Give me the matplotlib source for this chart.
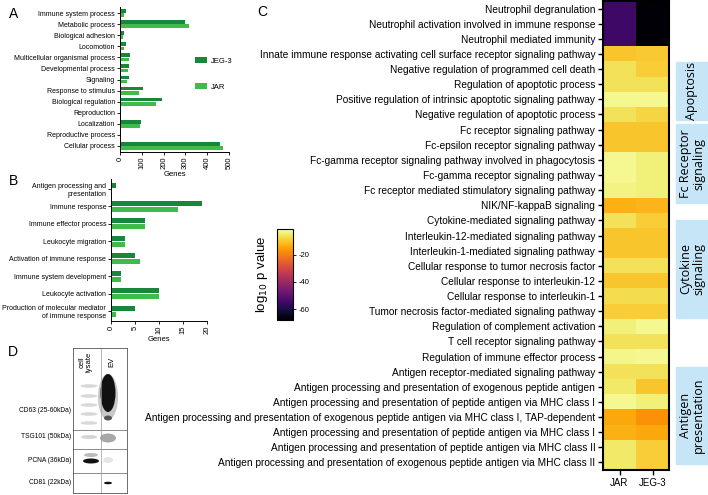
import numpy as np
import matplotlib
matplotlib.use('Agg')
import matplotlib.pyplot as plt
from matplotlib.patches import Rectangle, Ellipse

plt.rcParams['font.family'] = ['Liberation Sans', 'DejaVu Sans']
plt.rcParams['axes.unicode_minus'] = False

W, H = 708, 495
JEG_COLOR = '#17873a'
JAR_COLOR = '#3fbb4b'

# ---- panel A data (GO biological process) ----
a_terms = ['Immune system process', 'Metabolic process', 'Biological adhesion',
           'Locomotion', 'Multicellular organismal process', 'Developmental process',
           'Signaling', 'Response to stimulus', 'Biological regulation',
           'Reproduction', 'Localization', 'Reproductive process', 'Cellular process']
a_jeg3 = [28, 298, 18, 26, 46, 43, 41, 107, 194, 2, 96, 2, 459]
a_jar = [20, 318, 15, 18, 41, 35, 31, 89, 164, 4, 92, 3, 471]

# ---- panel B data (immune subset) ----
b_terms = ['Antigen processing and\npresentation', 'Immune response',
           'Immune effector process', 'Leukocyte migration',
           'Activation of immune response', 'Immune system development',
           'Leukocyte activation', 'Production of molecular mediator\nof immune response']
b_jeg3 = [1, 19, 7, 3, 5, 2, 10, 5]
b_jar = [0, 14, 7, 3, 6, 2, 10, 1]

# ---- panel C data (log10 p value) ----
c_terms = [
    'Neutrophil degranulation',
    'Neutrophil activation involved in immune response',
    'Neutrophil mediated immunity',
    'Innate immune response activating cell surface receptor signaling pathway',
    'Negative regulation of programmed cell death',
    'Regulation of apoptotic process',
    'Positive regulation of intrinsic apoptotic signaling pathway',
    'Negative regulation of apoptotic process',
    'Fc receptor signaling pathway',
    'Fc-epsilon receptor signaling pathway',
    'Fc-gamma receptor signaling pathway involved in phagocytosis',
    'Fc-gamma receptor signaling pathway',
    'Fc receptor mediated stimulatory signaling pathway',
    'NIK/NF-kappaB signaling',
    'Cytokine-mediated signaling pathway',
    'Interleukin-12-mediated signaling pathway',
    'Interleukin-1-mediated signaling pathway',
    'Cellular response to tumor necrosis factor',
    'Cellular response to interleukin-12',
    'Cellular response to interleukin-1',
    'Tumor necrosis factor-mediated signaling pathway',
    'Regulation of complement activation',
    'T cell receptor signaling pathway',
    'Regulation of immune effector process',
    'Antigen receptor-mediated signaling pathway',
    'Antigen processing and presentation of exogenous peptide antigen',
    'Antigen processing and presentation of peptide antigen via MHC class I',
    'Antigen processing and presentation of exogenous peptide antigen via MHC class I, TAP-dependent',
    'Antigen processing and presentation of peptide antigen via MHC class I',
    'Antigen processing and presentation of peptide antigen via MHC class II',
    'Antigen processing and presentation of exogenous peptide antigen via MHC class II',
]
c_cols = ['JAR', 'JEG-3']
c_jar = [-55, -55, -55, -10, -6, -6, -2.5, -6, -10, -10, -2.5, -2.5, -3.5, -13, -6,
         -10, -10, -6, -10, -7, -9, -4, -6, -3, -6, -5, -2.5, -14, -13, -5, -5]
c_jeg3 = [-67, -67, -67, -9.5, -9, -6, -2.5, -8, -10, -10, -4, -4, -4, -12, -9,
          -10, -10, -6, -10, -7, -9, -2.5, -6, -2.5, -6, -10, -4, -17, -14, -9, -9]

groups = [('Apoptosis', 62, 120), ('Fc Receptor\nsignaling', 124, 203),
          ('Cytokine\nsignaling', 220, 318), ('Antigen\npresentation', 367, 464)]

blot_rows = ['CD63 (25-60kDa)', 'TSG101 (50kDa)', 'PCNA (36kDa)', 'CD81 (22kDa)']


def px_axes(fig, x0, y0, x1, y1):
    return fig.add_axes([x0 / W, 1 - y1 / H, (x1 - x0) / W, (y1 - y0) / H])


def bar_panel(ax, terms, jeg, jar, xmax, xticks, h):
    y = np.arange(len(terms))
    ax.barh(y - h / 2 - 0.02, jeg, height=h, color=JEG_COLOR, label='JEG-3')
    ax.barh(y + h / 2 + 0.02, jar, height=h, color=JAR_COLOR, label='JAR')
    ax.set_ylim(len(terms) - 0.45, -0.55)
    ax.set_xlim(0, xmax)
    ax.set_yticks(y)
    ax.set_yticklabels(terms, fontsize=5)
    ax.set_xticks(xticks)
    ax.set_xticklabels([str(t) for t in xticks], rotation=90, fontsize=5.5)
    ax.set_xlabel('Genes', fontsize=5.5, labelpad=1)
    for s in ['top', 'right']:
        ax.spines[s].set_visible(False)
    for s in ['left', 'bottom']:
        ax.spines[s].set_linewidth(0.7)
    ax.tick_params(length=2, width=0.6, pad=1.5)


fig = plt.figure(figsize=(W / 100, H / 100), dpi=100)

# panel A
axA = px_axes(fig, 120, 7, 229, 152)
bar_panel(axA, a_terms, a_jeg3, a_jar, 500, [0, 100, 200, 300, 400, 500], 0.34)
axA.legend(loc='center left', bbox_to_anchor=(188 / W, 1 - 74 / H),
           bbox_transform=fig.transFigure, frameon=False, fontsize=5.5,
           handlelength=1.6, handleheight=0.8, labelspacing=2.4, handletextpad=0.5)

# panel B
axB = px_axes(fig, 111, 179, 207, 321)
bar_panel(axB, b_terms, b_jeg3, b_jar, 20, [0, 5, 10, 15, 20], 0.3)

# panel C heatmap
vals = np.column_stack([c_jar, c_jeg3])
axC = px_axes(fig, 603, 1, 669, 470)
im = axC.imshow(vals, cmap='inferno', vmin=-68, vmax=-1, aspect='auto',
                interpolation='nearest')
axC.set_yticks(np.arange(len(c_terms)))
axC.set_yticklabels(c_terms, fontsize=7.3)
axC.set_xticks(np.arange(len(c_cols)))
axC.set_xticklabels(c_cols, fontsize=7)
axC.tick_params(length=3.5, width=1, pad=2)
for s in axC.spines.values():
    s.set_linewidth(1.5)

# colorbar
cax = px_axes(fig, 277, 229, 293, 320)
cb = fig.colorbar(im, cax=cax, ticks=[-20, -40, -60])
cb.ax.tick_params(labelsize=5.5, length=2, width=0.6, pad=2)
cb.outline.set_linewidth(0.8)
cb.ax.yaxis.set_label_position('left')
cb.set_label(r'log$_{10}$ p value', fontsize=9.5, labelpad=5)

# group boxes
for name, y0, y1 in groups:
    fig.patches.append(Rectangle((676 / W, 1 - y1 / H), 32 / W, (y1 - y0) / H,
                                 transform=fig.transFigure, color='#c6e6f7', zorder=0))
    fig.text(692 / W, 1 - (y0 + y1) / 2 / H, name, rotation=90, ha='center',
             va='center', fontsize=9, family='Open Sans', linespacing=1.0)

# panel D: western blot
axD = px_axes(fig, 73, 348, 127, 493)
axD.set_xlim(73, 127)
axD.set_ylim(493, 348)
axD.set_xticks([])
axD.set_yticks([])
for s in axD.spines.values():
    s.set_linewidth(0.6)
    s.set_color('#555555')
for yl in [430, 449, 473]:
    axD.axhline(yl, color='#777777', lw=0.6)
axD.plot([101, 101], [348, 493], color='#999999', lw=0.5)
# lysate lane smears in CD63
for yb in [386, 396, 405, 414, 423]:
    axD.add_patch(Ellipse((89, yb), 17, 3.5, color='#d8d8d8', lw=0))
# EV lane CD63 blob
axD.add_patch(Ellipse((108, 397), 20, 46, color='#c8c8c8', lw=0))
axD.add_patch(Ellipse((108, 393), 15, 38, color='#111111', lw=0))
axD.add_patch(Ellipse((108, 418), 8, 5, color='#555555', lw=0))
# TSG101
axD.add_patch(Ellipse((89, 437), 16, 4, color='#d4d4d4', lw=0))
axD.add_patch(Ellipse((108, 438), 16, 9, color='#a8a8a8', lw=0))
# PCNA
axD.add_patch(Ellipse((91, 455), 14, 4, color='#bbbbbb', lw=0))
axD.add_patch(Ellipse((91, 461), 16, 5, color='#111111', lw=0))
axD.add_patch(Ellipse((108, 460), 10, 6, color='#e6e6e6', lw=0))
# CD81
axD.add_patch(Ellipse((108, 483), 8, 2.5, color='#111111', lw=0))
axD.text(86, 362, 'cell\nlysate', rotation=90, ha='center', va='center',
         fontsize=5.5, linespacing=1.0)
axD.text(112, 362, 'EV', rotation=90, ha='center', va='center', fontsize=5.5)
for lab, yy in zip(blot_rows, [411, 437, 461, 483]):
    fig.text(71 / W, 1 - yy / H, lab, ha='right', va='center', fontsize=4.8)

# panel letters
for letter, x, y in [('A', 14, 14), ('B', 13, 181), ('C', 262, 12), ('D', 13, 352)]:
    fig.text(x / W, 1 - y / H, letter, ha='center', va='center', fontsize=10)

fig.savefig('out.png', dpi=100)
